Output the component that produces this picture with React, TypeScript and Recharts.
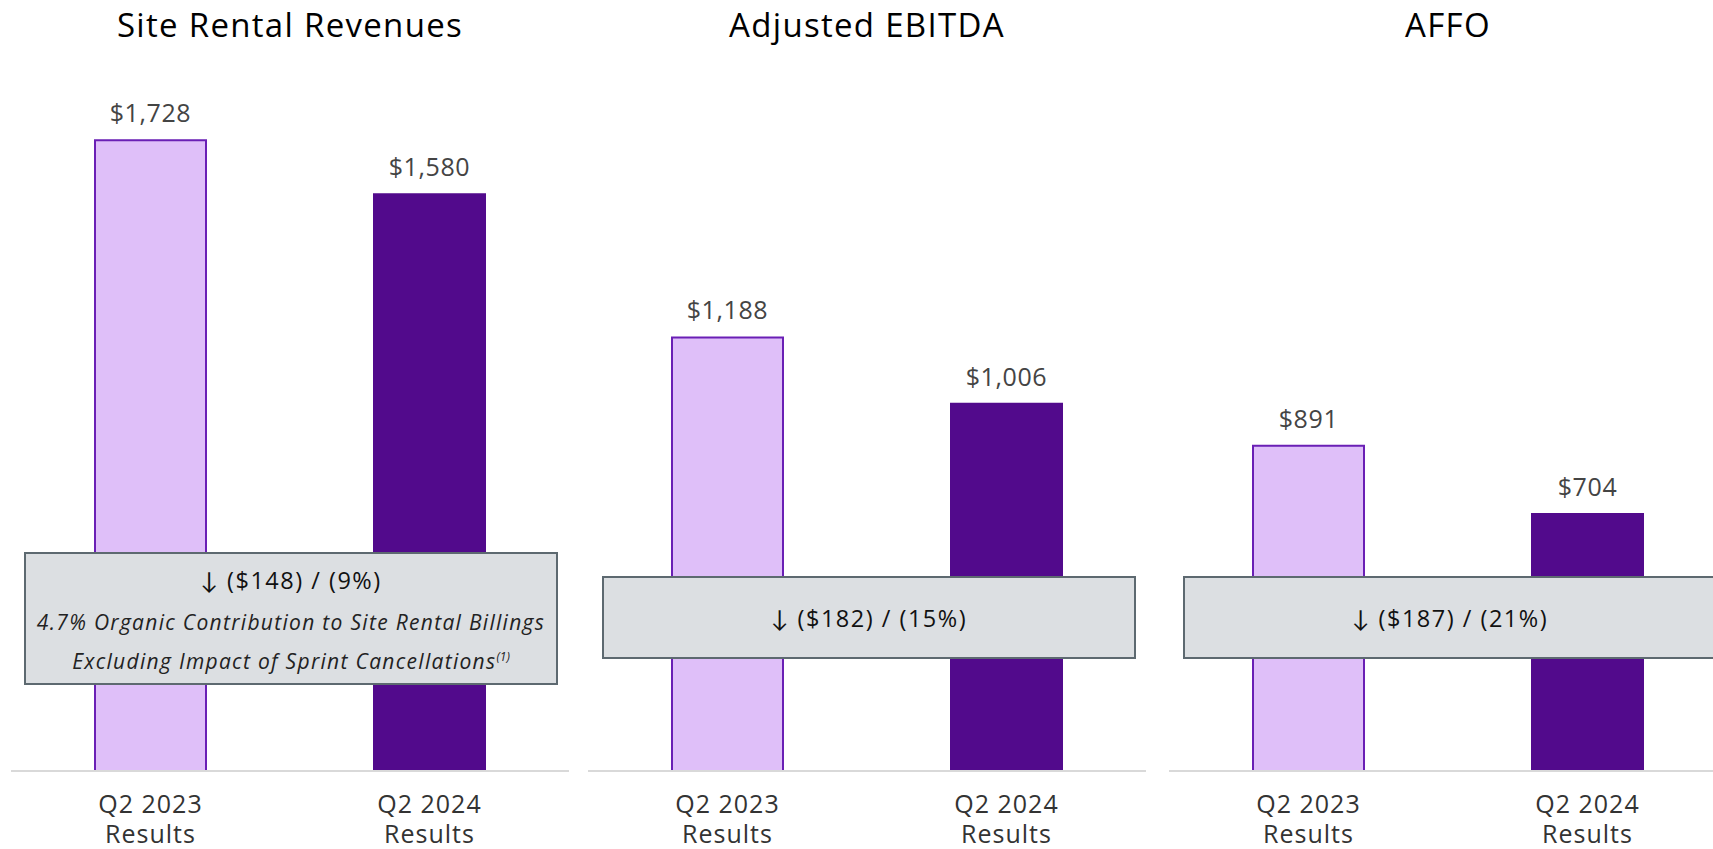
import { BarChart, Bar, XAxis, YAxis, Cell, LabelList } from "recharts";

const periods = ["Q2 2023", "Q2 2024"];
const subLabel = "Results";
const siteRental = [1728, 1580];
const adjEbitda = [1188, 1006];
const affo = [891, 704];
const titles = ["Site Rental Revenues", "Adjusted EBITDA", "AFFO"];
const changes = ["($148) / (9%)", "($182) / (15%)", "($187) / (21%)"];
const noteLines = ["4.7% Organic Contribution to Site Rental Billings", "Excluding Impact of Sprint Cancellations"];

const FONT = "'Open Sans', Lato, sans-serif";
const LIGHT = "#dfbff9";
const LIGHT_STROKE = "#6a1fb5";
const DARK = "#520a8c";

const CHART_W = 558;
const CHART_H = 849;
const PANEL_X = [11, 588, 1169];

function XTick({ x, y, payload }: any) {
  return (
    <text x={x} y={y} textAnchor="middle" fontFamily={FONT} fontSize={25} fill="#333" letterSpacing={1}>
      <tspan x={x} dy={34}>{payload.value}</tspan>
      <tspan x={x} dy={30}>{subLabel}</tspan>
    </text>
  );
}

function Panel({ values, left }: { values: number[]; left: number }) {
  const data = periods.map((p, i) => ({ period: p, value: values[i] }));
  return (
    <div style={{ position: "absolute", left, top: 0 }}>
      <BarChart width={CHART_W} height={CHART_H} data={data} margin={{ top: 41, right: 0, left: 0, bottom: 0 }}>
        <YAxis hide domain={[0, 2000]} />
        <XAxis
          dataKey="period"
          height={78}
          axisLine={{ stroke: "#d9d9d9", strokeWidth: 2 }}
          tickLine={false}
          tick={<XTick />}
          interval={0}
        />
        <Bar dataKey="value" barSize={111} isAnimationActive={false}>
          {data.map((_, i) => (
            <Cell key={i} fill={i === 0 ? LIGHT : DARK} stroke={i === 0 ? LIGHT_STROKE : DARK} strokeWidth={2} />
          ))}
          <LabelList
            dataKey="value"
            position="top"
            offset={18}
            formatter={(v: any) => "$" + Number(v).toLocaleString("en-US")}
            style={{ fontFamily: FONT, fontSize: 25, fill: "#444", letterSpacing: 0.6 }}
          />
        </Bar>
      </BarChart>
    </div>
  );
}

const boxBase: React.CSSProperties = {
  position: "absolute",
  width: 534,
  background: "#dcdfe2",
  border: "2px solid #5d6970",
  boxSizing: "border-box",
  display: "flex",
  flexDirection: "column",
  alignItems: "center",
  justifyContent: "center",
  fontFamily: FONT,
  color: "#111",
};

const changeStyle: React.CSSProperties = { fontSize: 23.5, letterSpacing: 1.5, lineHeight: "34px" };
const noteStyle: React.CSSProperties = { fontSize: 21, fontStyle: "italic", letterSpacing: 1.3, color: "#222" };

export default function App() {
  const series = [siteRental, adjEbitda, affo];
  return (
    <div style={{ position: "absolute", left: 0, top: 0, width: 1713, height: 849, overflow: "hidden", background: "#fff" }}>
      {series.map((s, i) => (
        <Panel key={i} values={s} left={PANEL_X[i]} />
      ))}
      {titles.map((t, i) => (
        <div
          key={t}
          style={{
            position: "absolute",
            left: PANEL_X[i],
            width: CHART_W,
            top: 2,
            textAlign: "center",
            fontFamily: FONT,
            fontSize: 33,
            letterSpacing: 1.3,
            color: "#000",
          }}
        >
          {t}
        </div>
      ))}
      <div style={{ ...boxBase, left: 24, top: 552, height: 133, justifyContent: "flex-start", paddingTop: 9 }}>
        <div style={changeStyle}>↓ {changes[0]}</div>
        <div style={{ ...noteStyle, lineHeight: "50px" }}>{noteLines[0]}</div>
        <div style={{ ...noteStyle, lineHeight: "20px" }}>
          {noteLines[1]}
          <sup style={{ fontSize: 12, letterSpacing: 0 }}>(1)</sup>
        </div>
      </div>
      <div style={{ ...boxBase, left: 602, top: 576, height: 83 }}>
        <div style={changeStyle}>↓ {changes[1]}</div>
      </div>
      <div style={{ ...boxBase, left: 1183, top: 576, height: 83 }}>
        <div style={changeStyle}>↓ {changes[2]}</div>
      </div>
    </div>
  );
}
